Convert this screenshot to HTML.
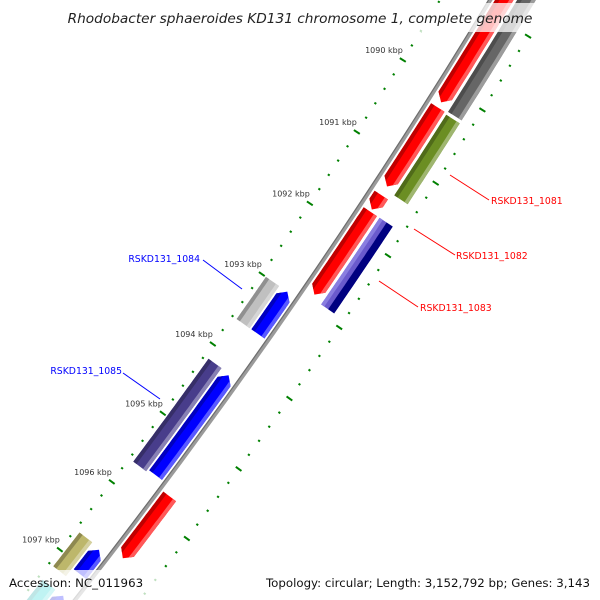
<!DOCTYPE html>
<html><head><meta charset="utf-8">
<style>
html,body{margin:0;padding:0;background:#fff;width:600px;height:600px;overflow:hidden;}
svg{display:block;}
</style></head>
<body>
<svg id="map" width="600" height="600" viewBox="0 0 600 600" xmlns="http://www.w3.org/2000/svg">
<g id="ticks"></g>
<g id="backbone"></g>
<g id="features"></g>
<g id="labels"></g>
<rect x="60" y="3" width="480" height="29" fill="#fff" fill-opacity="0.75"/>
<text x="300" y="23" text-anchor="middle" font-family="'DejaVu Sans','Liberation Sans',sans-serif" font-style="italic" font-size="13.7" fill="#222">Rhodobacter sphaeroides KD131 chromosome 1, complete genome</text>
<rect x="0" y="570" width="600" height="30" fill="#fff" fill-opacity="0.75"/>
<text x="9" y="587" font-family="'DejaVu Sans','Liberation Sans',sans-serif" font-size="11.8" fill="#111">Accession: NC_011963</text>
<text x="590" y="587" text-anchor="end" font-family="'DejaVu Sans','Liberation Sans',sans-serif" font-size="11.8" fill="#111">Topology: circular; Length: 3,152,792 bp; Genes: 3,143</text>
</svg>
<script>
// ---- data ----
const featStart = [1088, 1090.25, 1091.46, 1091.69, 1095.73, 1088, 1090.27, 1091.69, 1093.0, 1094.19, 1096.72, 1097.4, 1093.0, 1094.17, 1096.70, 1097.4];
const featEnd   = [1090.18, 1091.34, 1091.66, 1092.85, 1096.63, 1090.23, 1091.38, 1092.90, 1093.6, 1095.63, 1097.08, 1099, 1093.6, 1095.66, 1097.2, 1099];
const featRing  = ['o1','o1','o1','o1','o1','o2','o2','o2','i1','i1','i1','i1','i2','i2','i2','i2'];
const featStrand= [1,1,1,1,1,0,0,0,-1,-1,-1,-1,0,0,0,0];
const featColor = ['#ff0000','#ff0000','#ff0000','#ff0000','#ff0000','#666666','#6b8e23','split','#0000ff','#0000ff','#0000ff','#0000ff','#c0c0c0','#483d8b','#bdb76b','#00cdcd'];
const tickKbp = [1089,1090,1091,1092,1093,1094,1095,1096,1097,1098];
const tickLabels = ['1089 kbp','1090 kbp','1091 kbp','1092 kbp','1093 kbp','1094 kbp','1095 kbp','1096 kbp','1097 kbp','1098 kbp'];
const labelNames = ['RSKD131_1081','RSKD131_1082','RSKD131_1083','RSKD131_1084','RSKD131_1085'];
const labelKbp = [1091.1, 1091.75, 1092.45, 1093.1, 1094.9];

// ---- geometry ----
const NS='http://www.w3.org/2000/svg';
const CX=-4665, CY=-3124, A0=32.14, DEG=0.818;
const rings={o1:[6032,6048],o2:[6051,6067],i1:[6008,6024],i2:[5990,6006]};
function ang(k){return (A0+(k-1090)*DEG)*Math.PI/180;}
function pt(k,r){const a=ang(k);return [CX+r*Math.cos(a),CY+r*Math.sin(a)];}
function mk(tag,attrs,parent){const e=document.createElementNS(NS,tag);for(const k in attrs)e.setAttribute(k,attrs[k]);parent.appendChild(e);return e;}
function arcPts(k1,k2,r){const p=[];const n=24;for(let i=0;i<=n;i++){p.push(pt(k1+(k2-k1)*i/n,r));}return p;}
function shape(k1,k2,r1,r2,strand){
  const h=0.09, m=(r1+r2)/2; let pts=[];
  if(strand===1){pts=pts.concat(arcPts(k1,k2-h,r2));pts.push(pt(k2,m));pts=pts.concat(arcPts(k2-h,k1,r1));}
  else if(strand===-1){pts.push(pt(k1,m));pts=pts.concat(arcPts(k1+h,k2,r2));pts=pts.concat(arcPts(k2,k1+h,r1));}
  else{pts=pts.concat(arcPts(k1,k2,r2));pts=pts.concat(arcPts(k2,k1,r1));}
  return 'M'+pts.map(p=>p[0].toFixed(1)+','+p[1].toFixed(1)).join('L')+'Z';
}
function band(k1,k2,r){return 'M'+arcPts(k1,k2,r).map(p=>p[0].toFixed(1)+','+p[1].toFixed(1)).join('L');}
function shade(hex,f){const n=parseInt(hex.slice(1),16);let r=n>>16,g=(n>>8)&255,b=n&255;
  if(f<0){r*=1+f;g*=1+f;b*=1+f;}else{r+=(255-r)*f;g+=(255-g)*f;b+=(255-b)*f;}
  return 'rgb('+Math.round(r)+','+Math.round(g)+','+Math.round(b)+')';}

// ticks
const tg=document.getElementById('ticks');
for(let i=0;i<tickKbp.length;i++){
  for(let j=0;j<5;j++){
    const k=tickKbp[i]+j*0.2;
    [5985,6079].forEach(r=>{
      const len=j===0?3.5:1.1;
      const a=pt(k,r-len),b=pt(k,r+len);
      const l=mk('line',{x1:a[0],y1:a[1],x2:b[0],y2:b[1],stroke:'#008000','stroke-width':2},tg);
      
      
    });
  }
  const p=pt(tickKbp[i],5985);
  const t=mk('text',{x:p[0],y:p[1]-7,'text-anchor':'end','font-family':"'DejaVu Sans','Liberation Sans',sans-serif",'font-size':8,fill:'#333'},tg);
  t.textContent=tickLabels[i];
  
  
}
// backbone
const bg=document.getElementById('backbone');
const bb1=mk('path',{d:band(1088,1099,6028),stroke:'#9a9a9a','stroke-width':4,fill:'none'},bg);


const bb2=mk('path',{d:band(1088,1099,6026.5),stroke:'#6e6e6e','stroke-width':1.2,fill:'none'},bg);


// features
const fg=document.getElementById('features');
const defs=mk('defs',{},fg);
for(let i=0;i<featStart.length;i++){
  const [r1,r2]=rings[featRing[i]];
  const d=shape(featStart[i],featEnd[i],r1,r2,featStrand[i]);
  const cp=mk('clipPath',{id:'cp'+i},defs);
  mk('path',{d:d},cp);
  const g=mk('g',{'clip-path':'url(#cp'+i+')'},fg);
  
  
  const w=r2-r1;
  if(featColor[i]==='split'){
    mk('path',{d:band(featStart[i]-0.2,featEnd[i]+0.2,r1+w*0.27),stroke:'#6a5acd','stroke-width':w*0.55,fill:'none'},g);
    mk('path',{d:band(featStart[i]-0.2,featEnd[i]+0.2,r1+w*0.12),stroke:'#8a7ee0','stroke-width':w*0.25,fill:'none'},g);
    mk('path',{d:band(featStart[i]-0.2,featEnd[i]+0.2,r1+w*0.77),stroke:'#000080','stroke-width':w*0.47,fill:'none'},g);
  } else {
    const c=featColor[i];
    mk('path',{d:band(featStart[i]-0.2,featEnd[i]+0.2,(r1+r2)/2),stroke:c,'stroke-width':w+2,fill:'none'},g);
    mk('path',{d:band(featStart[i]-0.2,featEnd[i]+0.2,r1+w*0.12),stroke:shade(c,-0.25),'stroke-width':w*0.26,fill:'none'},g);
    mk('path',{d:band(featStart[i]-0.2,featEnd[i]+0.2,r2-w*0.12),stroke:shade(c,0.35),'stroke-width':w*0.24,fill:'none'},g);
  }
}
// labels
const lg=document.getElementById('labels');
const labelPos=[[491,204,'start','#ff0000',[450,175,489,200]],[456,259,'start','#ff0000',[414,229,455,255]],[420,311,'start','#ff0000',[379,281,418,307]],[200,262,'end','#0000ff',[203,260,242,289]],[122,374,'end','#0000ff',[123,373,160,399]]];
for(let i=0;i<labelNames.length;i++){
  const L=labelPos[i];
  const ln=mk('line',{x1:L[4][0],y1:L[4][1],x2:L[4][2],y2:L[4][3],stroke:L[3],'stroke-width':1},lg);
  
  
  const t=mk('text',{x:L[0],y:L[1],'text-anchor':L[2],'font-family':"'DejaVu Sans','Liberation Sans',sans-serif",'font-size':9.3,fill:L[3]},lg);
  t.textContent=labelNames[i];
  
  
}
</script>
</body></html>
